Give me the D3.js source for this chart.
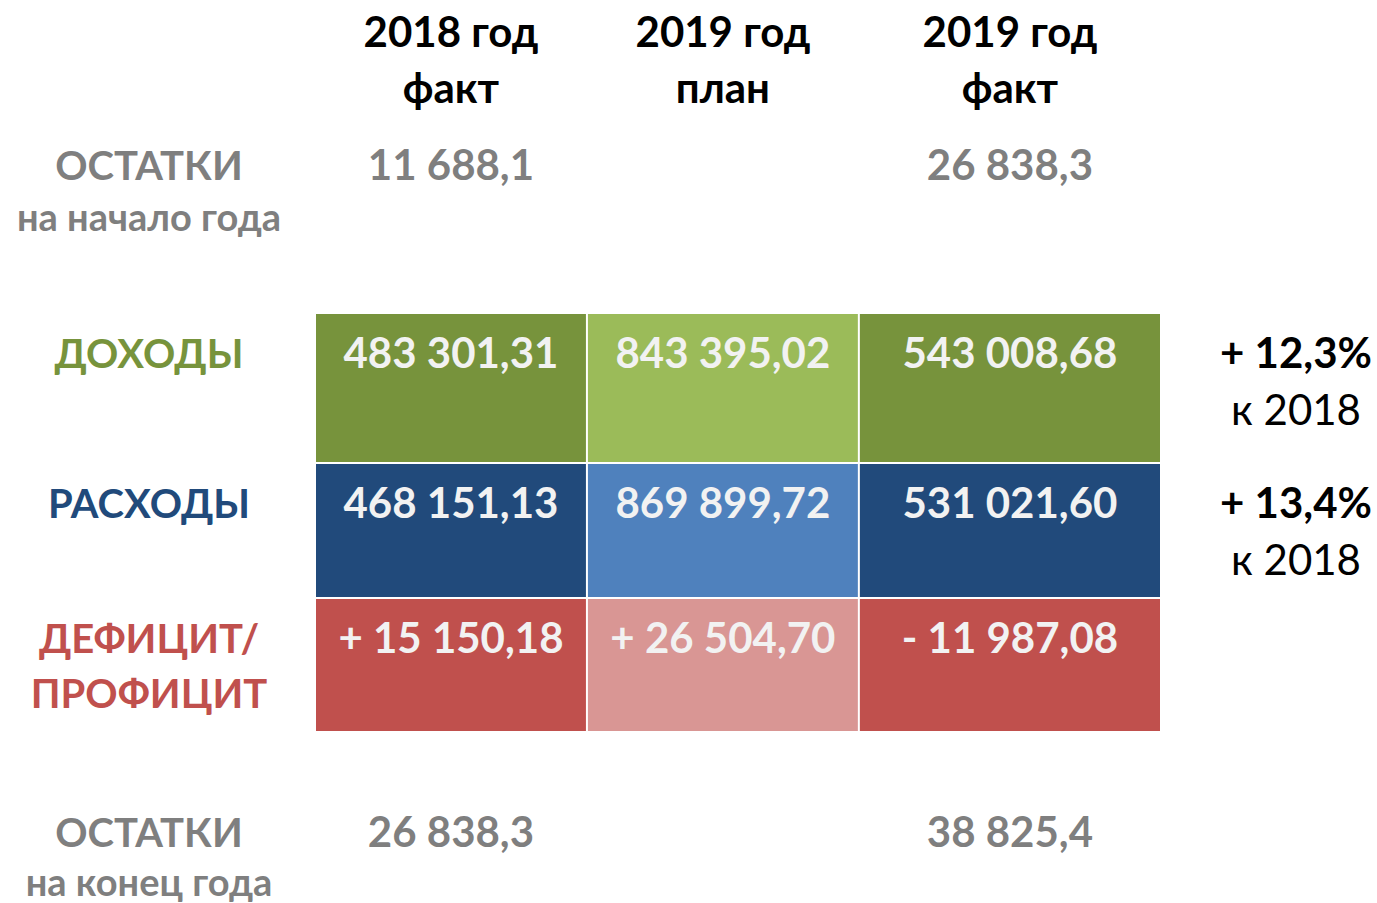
<!DOCTYPE html>
<html><head><meta charset="utf-8">
<script src="https://cdn.jsdelivr.net/npm/d3@7"></script>
<style>html,body{margin:0;padding:0;background:#fff;overflow:hidden}</style>
</head><body>
<svg id="chart" width="1377" height="903"></svg>
<script>
// ---- data ----
const columns = ["2018 год факт", "2019 год план", "2019 год факт"];
const headerLine1 = ["2018 год", "2019 год", "2019 год"];
const headerLine2 = ["факт", "план", "факт"];
const rowNames = ["ДОХОДЫ", "РАСХОДЫ", "ДЕФИЦИТ/ПРОФИЦИТ"];
const rowLabelLines = [["ДОХОДЫ"], ["РАСХОДЫ"], ["ДЕФИЦИТ/", "ПРОФИЦИТ"]];
const income = ["483 301,31", "843 395,02", "543 008,68"];
const expense = ["468 151,13", "869 899,72", "531 021,60"];
const balance = ["+ 15 150,18", "+ 26 504,70", "- 11 987,08"];
const growth = ["+ 12,3%", "+ 13,4%", null];
const growthNote = ["к 2018", "к 2018", null];
const startLabel = ["ОСТАТКИ", "на начало года"];
const startValues = ["11 688,1", null, "26 838,3"];
const endLabel = ["ОСТАТКИ", "на конец года"];
const endValues = ["26 838,3", null, "38 825,4"];

// ---- styles ----
const FONT = "Lato, 'Open Sans', sans-serif";
const rowColors = {
  "ДОХОДЫ": ["#77933C", "#9BBB59", "#77933C"],
  "РАСХОДЫ": ["#214A7B", "#4F81BD", "#214A7B"],
  "ДЕФИЦИТ/ПРОФИЦИТ": ["#C0504D", "#D99694", "#C0504D"]
};
const labelColors = {"ДОХОДЫ": "#77933C", "РАСХОДЫ": "#214A7B", "ДЕФИЦИТ/ПРОФИЦИТ": "#C0504D"};
const GRAY = "#7F7F7F";

const svg = d3.select("#chart");

// column scale: cumulative widths (third column slightly wider)
const colWeights = [270, 270, 300];
const colEdges = d3.cumsum([0, ...colWeights]);
const xEdge = d3.scaleLinear().domain([0, colEdges[colEdges.length - 1]]).range([316, 1162]);
const colX = i => xEdge(colEdges[i]);
const colW = i => xEdge(colEdges[i + 1]) - xEdge(colEdges[i]) - 2;
const colC = i => (xEdge(colEdges[i]) + xEdge(colEdges[i + 1]) - 2) / 2;

const rowWeights = [150, 135, 134];
const rowEdges = d3.cumsum([0, ...rowWeights]);
const yEdge = d3.scaleLinear().domain([0, rowEdges[rowEdges.length - 1]]).range([314, 733]);
const rowY = i => yEdge(rowEdges[i]);
const rowH = i => yEdge(rowEdges[i + 1]) - yEdge(rowEdges[i]) - 2;

const LABEL_X = 149;
const RIGHT_X = 1296;

function txt(x, y, s, size, color, weight) {
  svg.append("text").attr("x", x).attr("y", y).attr("text-anchor", "middle")
    .attr("font-family", FONT).attr("font-size", size).attr("font-weight", weight || 700)
    .attr("fill", color).text(s);
}

// headers
columns.forEach((c, i) => {
  txt(colC(i), 47, headerLine1[i], 42, "#000");
  txt(colC(i), 103, headerLine2[i], 42, "#000");
});

// start balances
txt(LABEL_X, 180, startLabel[0], 40, GRAY);
txt(LABEL_X, 231, startLabel[1], 38, GRAY);
startValues.forEach((v, i) => { if (v) txt(colC(i), 180, v, 42, GRAY); });

// cells
const rows = [income, expense, balance];
rows.forEach((vals, r) => {
  const name = rowNames[r];
  svg.append("g").selectAll("rect").data(vals).join("rect")
    .attr("x", (d, i) => colX(i)).attr("y", rowY(r))
    .attr("width", (d, i) => colW(i)).attr("height", rowH(r))
    .attr("fill", (d, i) => rowColors[name][i]);
  const base = rowY(r) + 54;
  vals.forEach((v, i) => txt(colC(i), base, v, 42, "#F2F2F2"));
  rowLabelLines[r].forEach((l, k) => txt(LABEL_X, base + k * 55, l, 40, labelColors[name]));
  if (growth[r]) {
    txt(RIGHT_X, base, growth[r], 42, "#000");
    txt(RIGHT_X, base + 57, growthNote[r], 42, "#000", 400);
  }
});

// end balances
txt(LABEL_X, 847, endLabel[0], 40, GRAY);
txt(LABEL_X, 896, endLabel[1], 38, GRAY);
endValues.forEach((v, i) => { if (v) txt(colC(i), 847, v, 42, GRAY); });
</script>
</body></html>
